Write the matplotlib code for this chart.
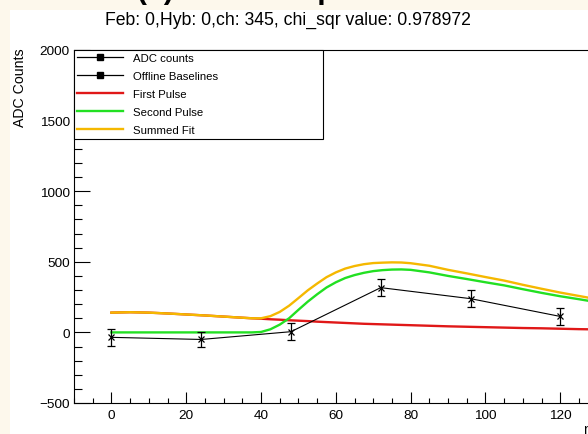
import matplotlib
matplotlib.use("Agg")
import matplotlib.pyplot as plt
from matplotlib.lines import Line2D
from matplotlib.patches import Rectangle
from matplotlib.ticker import MultipleLocator

plt.rcParams['font.family'] = ['Liberation Sans', 'DejaVu Sans']

# ---- data ----
time_ns = [0, 24, 48, 72, 96, 120]
adc_counts = [-35, -50, 5, 317, 239, 113]
adc_err = [60, 52, 60, 60, 58, 62]

fit_x = [0, 5, 10, 15, 20, 25, 30, 35, 37.5, 40, 42.5, 45, 47.5, 50, 52.5, 55,
         57.5, 60, 62.5, 65, 67.5, 70, 72.5, 75, 77.5, 80, 85, 90, 95, 100,
         105, 110, 115, 120, 125, 130]
first_pulse = [140, 143, 140, 134, 127, 120, 112, 104, 100, 97, 93, 90, 86, 83,
               80, 76, 73, 70, 67, 64, 61, 59, 57, 55, 53, 51, 47, 43, 40, 37,
               34, 31, 29, 26, 23, 21]
second_pulse = [0, 0, 0, 0, 0, 0, 0, 0, 0, 3, 22, 55, 100, 160, 218, 270, 318,
                355, 385, 406, 422, 434, 441, 445, 446, 443, 425, 400, 378, 355,
                333, 306, 280, 256, 235, 213]
summed_fit = [140, 143, 140, 134, 127, 120, 112, 104, 100, 100, 115, 145, 189,
              243, 298, 346, 391, 425, 452, 470, 483, 491, 494, 496, 495, 490,
              472, 443, 418, 392, 367, 337, 309, 282, 258, 234]

legend_labels = ["ADC counts", "Offline Baselines", "First Pulse",
                 "Second Pulse", "Summed Fit"]
title = "Feb: 0,Hyb: 0,ch: 345, chi_sqr value: 0.978972"

W, H = 588, 435
fig = plt.figure(figsize=(W / 100, H / 100), dpi=100)
fig.patch.set_facecolor('#fdf8ec')
fig.add_artist(Rectangle((10 / W, 0), 1, (H - 11) / H, transform=fig.transFigure,
                         facecolor='white', edgecolor='none', zorder=0))

ax = fig.add_axes([74 / W, 31 / H, 523.7 / W, 353 / H])
ax.set_facecolor('white')

red, green, orange = '#e01818', '#22e022', '#f5b800'
ax.plot(fit_x, first_pulse, color=red, lw=1.7, zorder=2)
ax.plot(fit_x, second_pulse, color=green, lw=1.7, zorder=3)
ax.plot(fit_x, summed_fit, color=orange, lw=1.7, zorder=4)
ax.errorbar(time_ns, adc_counts, yerr=adc_err, fmt='x-', color='black', ms=5,
            mew=0.9, lw=0.8, elinewidth=0.9, capsize=3, capthick=0.9, zorder=5)

ax.set_xlim(-10, 130)
ax.set_ylim(-500, 2000)
ax.xaxis.set_major_locator(MultipleLocator(20))
ax.xaxis.set_minor_locator(MultipleLocator(5))
ax.yaxis.set_major_locator(MultipleLocator(500))
ax.yaxis.set_minor_locator(MultipleLocator(100))
ax.tick_params(axis='both', which='both', direction='in', top=False, right=False,
               labelsize=9.7, width=0.8, color='black')
ax.tick_params(axis='y', which='major', length=11.5, pad=3)
ax.tick_params(axis='y', which='minor', length=5.8)
ax.tick_params(axis='x', which='major', length=7.9, pad=4.5)
ax.tick_params(axis='x', which='minor', length=3.6)
for s in ax.spines.values():
    s.set_linewidth(0.8)

handles = [
    Line2D([], [], color='black', lw=0.9, marker='s', ms=5),
    Line2D([], [], color='black', lw=0.9, marker='s', ms=5),
    Line2D([], [], color=red, lw=1.7),
    Line2D([], [], color=green, lw=1.7),
    Line2D([], [], color=orange, lw=1.7),
]
leg = ax.legend(handles, legend_labels, loc='upper left',
                bbox_to_anchor=(0, 0, 249 / 523.7, 1), mode='expand',
                borderaxespad=0, fontsize=8.2, labelspacing=0.7, borderpad=0.3,
                handlelength=4.0, handletextpad=0.9, numpoints=1,
                fancybox=False, framealpha=1, edgecolor='black')
leg.get_frame().set_linewidth(0.8)
leg.set_zorder(10)

fig.text(288 / W, 1 - 20 / H, title, ha='center', va='center', fontsize=12.7)
fig.text(20 / W, 1 - 48 / H, 'ADC Counts', rotation=90, ha='center', va='top',
         fontsize=10.2)
fig.text(597.7 / W, 1 - 430 / H, 'ns', ha='right', va='center', fontsize=10)
fig.text(137 / W, 1 + 1.5 / H, '(a) Fit of the pulse', ha='left', va='baseline',
         fontsize=21.6, fontweight='bold')

fig.savefig('out.png', dpi=100, facecolor=fig.get_facecolor())
